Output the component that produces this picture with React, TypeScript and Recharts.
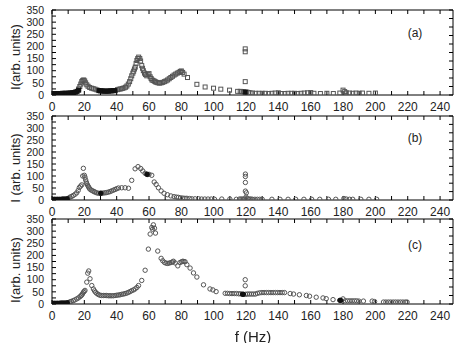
import React from "react";
import { ScatterChart, Scatter, XAxis, YAxis } from "recharts";

type Pt = { f: number; I: number };
const toPts = (rows: number[][]): Pt[] => rows.map(([f, I]) => ({ f, I }));

// tick values
const xTicks = [0, 10, 20, 30, 40, 50, 60, 70, 80, 90, 100, 110, 120, 130, 140, 150, 160, 170, 180, 190, 200, 210, 220, 230, 240];
const yTicks = [0, 25, 50, 75, 100, 125, 150, 175, 200, 225, 250, 275, 300, 325, 350];
const yTicksRight = [0, 35, 70, 105, 140, 175, 210, 245, 280, 315, 350];

// panel (a) - squares
const aFilled = toPts([
  [0.5, 6], [1.5, 6], [2.5, 6], [3.5, 6], [4.5, 6], [5.5, 6], [6.5, 7], [7.5, 7], [8.5, 7],
  [9.5, 7], [10.5, 8], [11.5, 8], [12.5, 9], [13.5, 10], [14.5, 12], [15.5, 15], [16.5, 20],
  [29, 18], [30, 17], [31, 17], [32, 16], [33, 16], [34, 16], [35, 16], [36, 17], [37, 17],
  [38, 18], [39, 18], [119.5, 12],
]);
const aOpen = toPts([
  [16.5, 25], [17.2, 35], [17.8, 45], [18.4, 55], [19, 60], [19.6, 62], [20.2, 58], [20.8, 50],
  [21.5, 42], [22.3, 36], [23.3, 31], [24.5, 28], [25.5, 26], [26.6, 24], [27.8, 21],
  [40.5, 22], [41.5, 24], [42.5, 25], [43.5, 27], [44.5, 29], [45.5, 32], [46.3, 37], [47.2, 45],
  [48, 55], [48.7, 67], [49.3, 79], [50, 90], [50.5, 98], [51, 107], [51.5, 115], [52, 130],
  [52.5, 142], [53, 150], [53.6, 156], [54.3, 150], [54.8, 140], [55.5, 121], [56, 110],
  [56.5, 100], [57.2, 90], [57.8, 84], [58.6, 79], [59.4, 84], [60, 88], [60.7, 75], [61.3, 68],
  [61.8, 62], [62.5, 60], [63.3, 57], [64, 54], [64.8, 52], [65.6, 50], [66.5, 49], [67.5, 50],
  [68.5, 52], [69.5, 55], [70.5, 58], [71.5, 62], [72.5, 67], [73.5, 72], [74.5, 77], [75.5, 82],
  [76.5, 86], [77.5, 90], [78.5, 93], [79.3, 97], [80, 99], [80.8, 93], [81.7, 86], [83.8, 72],
  [89.6, 44], [94.7, 33], [99.9, 28], [104.4, 24], [109.8, 20], [114.8, 15], [116.4, 15],
  [117.5, 14], [118.5, 13], [119.5, 190], [119.5, 178], [119.5, 55], [120.5, 12], [121.5, 10],
  [122.5, 9], [124, 8], [126, 7], [128, 7], [130, 7], [132, 7], [134, 6], [136, 7], [138, 8],
  [140, 9], [142, 6], [144, 6], [146, 7], [148, 7], [150, 7], [152, 6], [154, 7], [156, 8],
  [158, 9], [160, 10], [162, 7], [166, 6], [170, 7], [174, 6], [178, 8], [180, 20], [181, 14],
  [182, 9], [184, 8], [186, 7], [188, 8], [190, 7], [192, 8], [196, 7], [200, 8],
]);

// panel (b) - circles
const bFilled = toPts([
  [0.5, 3], [1.5, 3], [2.5, 3], [3.5, 3], [4.5, 3], [5.5, 3], [6.5, 4], [7.5, 4], [8.5, 4], [9.5, 5],
  [30.2, 28], [58.8, 107],
]);
const bOpen = toPts([
  [10.5, 8], [11.1, 12], [12.2, 15], [13.2, 19], [14.3, 24], [15.3, 30], [16.2, 40], [16.9, 52],
  [17.7, 58], [18.4, 63], [19, 100], [19.4, 132], [20, 103], [20.4, 95], [20.8, 84], [21.2, 75],
  [21.5, 68], [22, 62], [22.5, 56], [23, 50], [23.5, 45], [24.3, 41], [25.2, 38], [26, 35],
  [26.6, 33], [27.6, 30], [28.7, 28], [29.7, 28], [30.7, 28], [31.7, 29], [32.8, 30], [33.8, 31],
  [34.9, 33], [35.9, 35], [36.9, 38], [38, 41], [39, 44], [40, 47], [41.1, 50], [43.1, 51],
  [45.2, 51], [47.3, 49], [49.3, 82], [51.4, 130], [53.2, 139], [54.9, 131], [56.1, 121],
  [57.6, 111], [58.6, 107], [59.3, 106], [60, 107], [61.7, 103], [63.2, 75], [64.4, 65],
  [65.8, 51], [67.5, 38], [69.3, 28], [71.4, 22], [73.5, 17], [75.5, 14], [77, 12], [78.2, 11],
  [79.5, 9], [80.9, 8], [82.2, 7], [83.4, 7], [85, 6], [86.5, 5], [88.5, 5], [90.6, 5], [92.5, 4],
  [94.5, 4], [96.5, 4], [98.5, 4], [100.5, 3], [105, 4], [110, 4], [114, 3], [116, 4], [117, 4],
  [118, 4], [119, 4], [119.6, 108], [119.6, 98], [119.6, 73], [119.6, 37], [120.2, 30], [120, 12],
  [121, 5], [122, 4], [123, 4], [124, 3], [125.5, 3], [127, 3], [128.5, 3], [130, 3], [136, 3],
  [141, 3], [146, 3], [150.7, 3], [155.8, 3], [160.6, 3], [165.6, 3], [171, 3], [175.5, 3],
  [180.5, 6], [182, 4], [184, 3], [186, 3], [191, 3], [196, 3], [200.8, 3],
]);

// panel (c) - circles
const cFilled = toPts([
  [0.5, 3], [1.5, 3], [2.5, 3], [3.5, 3], [4.5, 3], [5.5, 4], [6.5, 4], [7.5, 4], [8.5, 4], [9.5, 5],
  [117.8, 40], [118.4, 40], [178, 15], [178.6, 15],
]);
const cOpen = toPts([
  [10.5, 6], [11.1, 9], [12, 11], [13.2, 14], [14.2, 17], [15.3, 21], [16.3, 25], [17.3, 30],
  [17.9, 34], [18.4, 37], [18.9, 42], [19.4, 48], [19.9, 52], [20.4, 56], [21.5, 90], [22.1, 127],
  [22.7, 136], [23.5, 104], [24.6, 76], [25.6, 62], [26.3, 54], [27, 48], [27.8, 43], [28.7, 39],
  [29.7, 36], [30.7, 35], [31.8, 35], [32.8, 35], [33.8, 35], [34.9, 34], [35.9, 34], [36.9, 34],
  [38, 34], [39, 35], [40, 36], [41.1, 37], [42.1, 38], [43.1, 40], [44.2, 41], [45.2, 43],
  [46.3, 45], [47.3, 48], [48.3, 51], [49.3, 55], [50.4, 58], [51.4, 62], [52.5, 68], [53.5, 76],
  [55.5, 97], [57.6, 139], [59.6, 226], [60.7, 288], [61.7, 315], [62.2, 308], [62.7, 326],
  [63.4, 312], [64, 292], [65.4, 218], [67.5, 188], [68.5, 178], [69.6, 171], [70.6, 168],
  [71.6, 167], [72.7, 169], [73.7, 171], [74.5, 173], [75.1, 176], [76.2, 169], [77.8, 157],
  [79.2, 171], [80.2, 174], [80.9, 176], [81.6, 175], [82.3, 174], [83.4, 162], [85.4, 148],
  [87.5, 128], [89.6, 111], [93.7, 79], [97.7, 62], [99.5, 58], [101.5, 51], [107.1, 44],
  [108.5, 44], [109.9, 43], [111.3, 43], [112.7, 43], [114.1, 43], [115.5, 42], [116.6, 42],
  [119.5, 100], [119.5, 75], [119.8, 40], [121, 41], [122.2, 41], [123.4, 41], [124.6, 41],
  [125.8, 41], [127, 44], [128.4, 46], [129.8, 47], [131.2, 47], [132.6, 47], [134, 47],
  [135.4, 47], [136.8, 47], [138.2, 47], [139.6, 47], [141, 47], [142.4, 47], [143.8, 47],
  [147.3, 43], [149.4, 41], [153, 38], [157.3, 35], [159.3, 32], [163.4, 28], [167.6, 25],
  [169.6, 22], [173.8, 18], [180, 21], [181.4, 13], [182.8, 13], [184.2, 13], [185.6, 13],
  [187, 13], [188.4, 13], [189.8, 12], [192.6, 12], [198, 12], [199.5, 10], [205, 8], [206.5, 8],
  [208, 8], [209.5, 8], [211, 8], [212.5, 8], [214, 8], [215.5, 8], [217, 8], [218.5, 8], [219.6, 8],
]);

const FONT = "'Liberation Sans', Arial, sans-serif";
const MARK = "#555";

const square = (fill: string) => (p: any) =>
  <rect x={p.cx - 2} y={p.cy - 2} width={4} height={4} fill={fill} stroke={fill === "none" ? MARK : "#111"} strokeWidth={1} />;
const circle = (fill: string) => (p: any) =>
  <circle cx={p.cx} cy={p.cy} r={2.2} fill={fill} stroke={fill === "none" ? MARK : "#111"} strokeWidth={1} />;
const nothing = () => <g />;

function Panel({ top, plotH, open, filled, kind, tag, tagTop }: {
  top: number; plotH: number; open: Pt[]; filled: Pt[]; kind: "sq" | "ci"; tag: string; tagTop: number;
}) {
  const mk = kind === "sq" ? square : circle;
  return (
    <div style={{ position: "absolute", left: 0, top: top - 10 }}>
      <ScatterChart width={459} height={plotH + 36} margin={{ top: 9, right: 5, bottom: 0, left: 0 }}>
        <XAxis type="number" dataKey="f" domain={[0, 248]} ticks={xTicks} allowDataOverflow
          tickFormatter={(v: number) => (v % 20 === 0 ? String(v) : "")}
          height={25} tickSize={-4} tickMargin={11} axisLine={{ stroke: "#000" }} tickLine={{ stroke: "#000" }}
          tick={{ fontSize: 12, fill: "#222", fontFamily: FONT }} interval={0} />
        <XAxis xAxisId="t" orientation="top" type="number" dataKey="f" domain={[0, 248]} ticks={xTicks} allowDataOverflow
          tickFormatter={() => ""} height={1} tickSize={-4} axisLine={{ stroke: "#000" }} tickLine={{ stroke: "#000" }} interval={0} />
        <YAxis type="number" dataKey="I" domain={[0, 350]} ticks={yTicks} allowDataOverflow
          tickFormatter={(v: number) => (v % 50 === 0 ? String(v) : "")}
          width={52} tickSize={-4} tickMargin={12} axisLine={{ stroke: "#000" }} tickLine={{ stroke: "#000" }}
          tick={{ fontSize: 10.5, fill: "#222", fontFamily: FONT }} interval={0} />
        <YAxis yAxisId="r" orientation="right" type="number" dataKey="I" domain={[0, 350]} ticks={yTicksRight} allowDataOverflow
          tickFormatter={() => ""} width={1} tickSize={-4} axisLine={{ stroke: "#000" }} tickLine={{ stroke: "#000" }} interval={0} />
        <Scatter data={open} shape={mk("none")} isAnimationActive={false} />
        <Scatter data={filled} shape={mk("#111")} isAnimationActive={false} />
        <Scatter data={filled} xAxisId="t" yAxisId="r" shape={nothing} isAnimationActive={false} />
      </ScatterChart>
      <div style={{ position: "absolute", left: 415, top: tagTop - top + 10, transform: "translate(-50%,-50%)", fontFamily: FONT, fontSize: 12, color: "#222" }}>{tag}</div>
    </div>
  );
}

const yLabel = (text: string, cy: number) => (
  <div style={{ position: "absolute", left: 14.5, top: cy, transform: "translate(-50%,-50%) rotate(-90deg)", whiteSpace: "nowrap", fontFamily: FONT, fontSize: 13, color: "#222" }}>{text}</div>
);

export default function App() {
  return (
    <div style={{ position: "fixed", left: 0, top: 0, width: 459, height: 343, background: "#fff" }}>
      <Panel top={10} plotH={84} open={aOpen} filled={aFilled} kind="sq" tag="(a)" tagTop={33} />
      <Panel top={116} plotH={83} open={bOpen} filled={bFilled} kind="ci" tag="(b)" tagTop={137.5} />
      <Panel top={219} plotH={84} open={cOpen} filled={cFilled} kind="ci" tag="(c)" tagTop={245} />
      {yLabel("I(arb. units)", 57)}
      {yLabel("I (arb. units)", 168)}
      {yLabel("I(arb. units)", 270)}
      <div style={{ position: "absolute", left: 253, top: 336, transform: "translate(-50%,-50%)", fontFamily: FONT, fontSize: 15, color: "#222" }}>f (Hz)</div>
    </div>
  );
}
